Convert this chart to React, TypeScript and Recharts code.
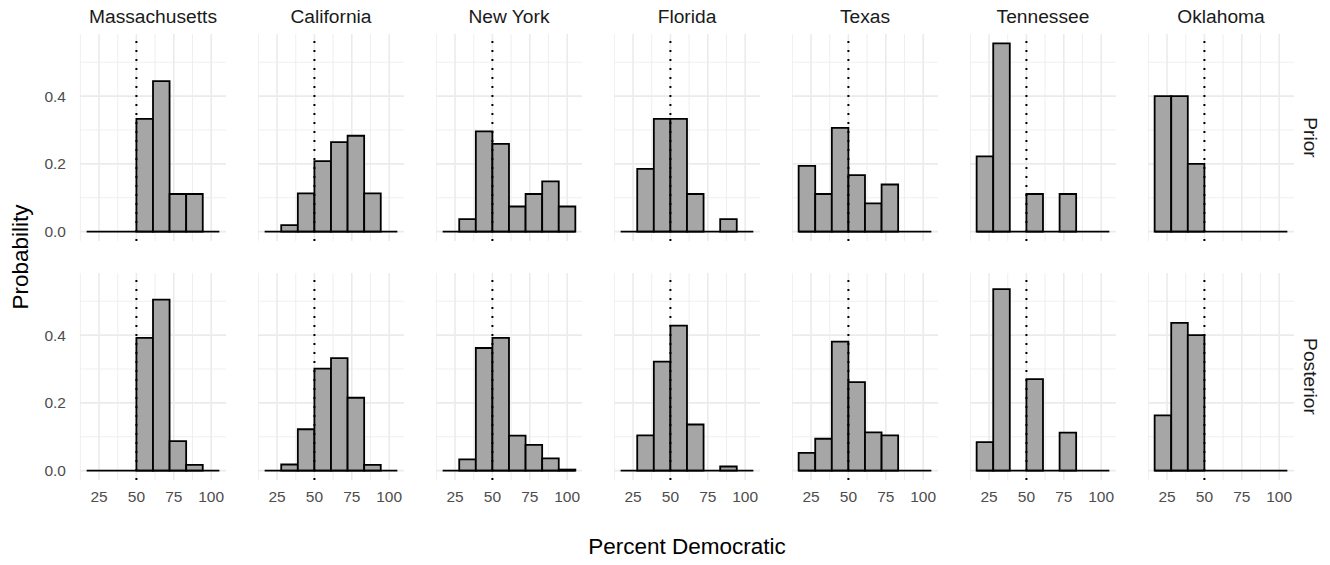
import React from 'react';
import { BarChart, Bar, XAxis, YAxis, CartesianGrid, ReferenceLine } from 'recharts';

// ---------- data ----------
const states = ['Massachusetts', 'California', 'New York', 'Florida', 'Texas', 'Tennessee', 'Oklahoma'];
const rowLabels = ['Prior', 'Posterior'];

// bin centres (percent Democratic), bins of ~11.1 points with a boundary at 50
const binCenters = [22.25, 33.35, 44.45, 55.55, 66.65, 77.75, 88.85, 99.95];
const binOuterEdges = [16.7, 105.5];

const xTicks = [25, 50, 75, 100];
const xMinorTicks = [12.5, 37.5, 62.5, 87.5];
const yTicks = [0, 0.2, 0.4];
const yMinorTicks = [0.1, 0.3, 0.5];
const xDomain = [12.26, 109.94];
const yDomain = [-0.0278, 0.5834];
const threshold = 50;

// Prior probabilities per bin
const priorMassachusetts = [0, 0, 0, 0.333, 0.444, 0.111, 0.111, 0];
const priorCalifornia = [0, 0.019, 0.113, 0.208, 0.264, 0.283, 0.113, 0];
const priorNewYork = [0, 0.037, 0.296, 0.259, 0.074, 0.111, 0.148, 0.074];
const priorFlorida = [0, 0.185, 0.333, 0.333, 0.111, 0, 0.037, 0];
const priorTexas = [0.194, 0.111, 0.306, 0.167, 0.083, 0.139, 0, 0];
const priorTennessee = [0.222, 0.556, 0, 0.111, 0, 0.111, 0, 0];
const priorOklahoma = [0.4, 0.4, 0.2, 0, 0, 0, 0, 0];

// Posterior probabilities per bin
const posteriorMassachusetts = [0, 0, 0, 0.392, 0.505, 0.087, 0.017, 0];
const posteriorCalifornia = [0, 0.018, 0.122, 0.301, 0.332, 0.215, 0.017, 0];
const posteriorNewYork = [0, 0.033, 0.362, 0.392, 0.103, 0.076, 0.036, 0.003];
const posteriorFlorida = [0, 0.104, 0.322, 0.428, 0.136, 0, 0.012, 0];
const posteriorTexas = [0.052, 0.094, 0.381, 0.261, 0.113, 0.104, 0, 0];
const posteriorTennessee = [0.084, 0.536, 0, 0.27, 0, 0.112, 0, 0];
const posteriorOklahoma = [0.163, 0.436, 0.4, 0, 0, 0, 0, 0];

const priorRows = [priorMassachusetts, priorCalifornia, priorNewYork, priorFlorida, priorTexas, priorTennessee, priorOklahoma];
const posteriorRows = [posteriorMassachusetts, posteriorCalifornia, posteriorNewYork, posteriorFlorida, posteriorTexas, posteriorTennessee, posteriorOklahoma];

// ---------- layout ----------
const PANEL_LEFT = 80;
const PITCH = 178;
const PW = 146;
const PH = 207;
const ROW_TOPS = [34, 273];
const Y_AXIS_W = 80;
const X_AXIS_H = 34;
const FONT = '"Liberation Sans", Arial, Helvetica, sans-serif';
const GRID = '#EBEBEB';

function Panel({ values, col, row }: { values: number[]; col: number; row: number }) {
  const data = binCenters.map((x, i) => ({ x, p: values[i] }));
  const showY = col === 0;
  const showX = row === 1;
  const yW = showY ? Y_AXIS_W : 0;
  const xH = showX ? X_AXIS_H : 0;
  const width = PW + yW;
  const height = PH + xH;
  const bandPx = (PW * (binCenters[1] - binCenters[0])) / (xDomain[1] - xDomain[0]);
  return (
    <div style={{ position: 'absolute', left: PANEL_LEFT + col * PITCH - yW, top: ROW_TOPS[row], width, height }}>
      <BarChart width={width} height={height} data={data} margin={{ top: 0, right: 0, bottom: 0, left: 0 }} barCategoryGap={0} barGap={0}>
        <CartesianGrid verticalValues={xMinorTicks} horizontalValues={yMinorTicks} stroke={GRID} strokeWidth={0.8} />
        <CartesianGrid verticalValues={xTicks} horizontalValues={yTicks} stroke={GRID} strokeWidth={1.6} />
        <XAxis
          type="number"
          dataKey="x"
          domain={xDomain}
          ticks={xTicks}
          interval={0}
          allowDataOverflow
          hide={!showX}
          height={showX ? X_AXIS_H : 0}
          axisLine={false}
          tickLine={false}
          tickSize={0}
          tickMargin={11}
          tick={{ fill: '#4D4D4D', fontSize: 15.5, fontFamily: FONT }}
        />
        <YAxis
          type="number"
          domain={yDomain}
          ticks={yTicks}
          interval={0}
          allowDataOverflow
          hide={!showY}
          width={showY ? Y_AXIS_W : 0}
          axisLine={false}
          tickLine={false}
          tickSize={0}
          tickMargin={14}
          tickFormatter={(v: number) => v.toFixed(1)}
          tick={{ fill: '#4D4D4D', fontSize: 15.5, fontFamily: FONT }}
        />
        <Bar dataKey="p" fill="#A6A6A6" stroke="#000000" strokeWidth={1.8} barSize={bandPx - 0.02} isAnimationActive={false} />
        <ReferenceLine segment={[{ x: binOuterEdges[0], y: 0 }, { x: binOuterEdges[1], y: 0 }]} stroke="#000000" strokeWidth={1.8} />
        <ReferenceLine x={threshold} stroke="#000000" strokeWidth={2} strokeDasharray="2 7" />
      </BarChart>
    </div>
  );
}

export default function App() {
  const plotRight = PANEL_LEFT + 6 * PITCH + PW;
  return (
    <div style={{ position: 'absolute', left: 0, top: 0, width: 1330, height: 565, background: '#fff', fontFamily: FONT }}>
      <svg width={1330} height={565} style={{ position: 'absolute', left: 0, top: 0 }}>
        {states.map((s, c) => (
          <text key={s} x={PANEL_LEFT + c * PITCH + PW / 2} y={23} textAnchor="middle" fontSize={19.2} fill="#1A1A1A" fontFamily={FONT}>
            {s}
          </text>
        ))}
        {rowLabels.map((r, i) => (
          <text
            key={r}
            transform={`translate(1304, ${ROW_TOPS[i] + PH / 2}) rotate(90)`}
            textAnchor="middle"
            fontSize={19.2}
            fill="#1A1A1A"
            fontFamily={FONT}
          >
            {r}
          </text>
        ))}
        <text transform={`translate(28, ${(ROW_TOPS[0] + ROW_TOPS[1] + PH) / 2}) rotate(-90)`} textAnchor="middle" fontSize={22.5} fill="#000" fontFamily={FONT}>
          Probability
        </text>
        <text x={(PANEL_LEFT + plotRight) / 2} y={554} textAnchor="middle" fontSize={22.5} fill="#000" fontFamily={FONT}>
          Percent Democratic
        </text>
      </svg>
      {states.map((s, c) => (
        <React.Fragment key={s}>
          <Panel values={priorRows[c]} col={c} row={0} />
          <Panel values={posteriorRows[c]} col={c} row={1} />
        </React.Fragment>
      ))}
    </div>
  );
}
